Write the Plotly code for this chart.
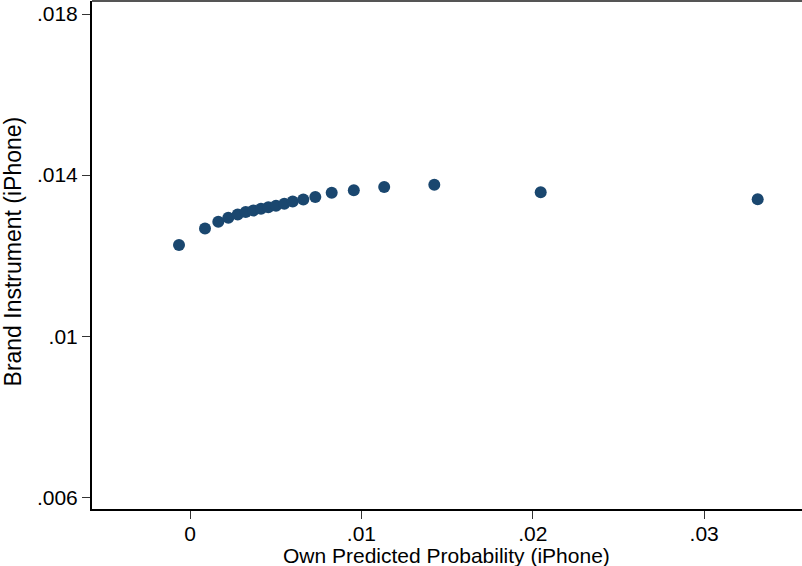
import plotly.graph_objects as go

x_vals = [-0.000642, 0.000875, 0.00165, 0.002235, 0.002783, 0.00325, 0.003693,
          0.004142, 0.004568, 0.005018, 0.005502, 0.005992, 0.00661, 0.00731,
          0.008267, 0.009557, 0.01133, 0.014253, 0.020461, 0.033121]
y_vals = [0.012264, 0.012674, 0.01284, 0.01294, 0.013022, 0.013086, 0.013121,
          0.013163, 0.013203, 0.013238, 0.013287, 0.013342, 0.013394, 0.013456,
          0.013563, 0.013623, 0.013705, 0.013762, 0.013573, 0.013399]

x_ticks = [0, 0.01, 0.02, 0.03]
x_tick_text = ["0", ".01", ".02", ".03"]
y_ticks = [0.006, 0.01, 0.014, 0.018]
y_tick_text = [".006", ".01", ".014", ".018"]

x_title = "Own Predicted Probability (iPhone)"
y_title = "Brand Instrument (iPhone)"

FONT = "Liberation Sans, Arial, sans-serif"
FS = 21

fig = go.Figure()
fig.add_trace(go.Scatter(
    x=x_vals, y=y_vals, mode="markers",
    marker=dict(size=12, color="#1a476f", line=dict(width=0)),
    showlegend=False, cliponaxis=False,
))

fig.update_layout(
    width=802, height=566,
    margin=dict(l=92, r=0, t=1, b=57, pad=0),
    paper_bgcolor="white", plot_bgcolor="white",
    font=dict(family=FONT, size=FS, color="black"),
    xaxis=dict(
        range=[-0.005718, 0.035706],
        tickmode="array", tickvals=x_ticks, ticktext=x_tick_text,
        tickfont=dict(family=FONT, size=FS, color="black"),
        ticks="outside", ticklen=8, tickwidth=1.3, tickcolor="#333",
        ticklabelstandoff=-3,
        showline=True, linecolor="black", linewidth=2,
        showgrid=False, zeroline=False,
    ),
    yaxis=dict(
        range=[0.005709, 0.018323],
        tickmode="array", tickvals=y_ticks, ticktext=y_tick_text,
        tickfont=dict(family=FONT, size=FS, color="black"),
        ticks="outside", ticklen=8, tickwidth=1.3, tickcolor="#333",
        showline=True, linecolor="black", linewidth=2,
        showgrid=False, zeroline=False,
    ),
    shapes=[dict(type="line", xref="paper", yref="paper", x0=0, x1=1, y0=1, y1=1,
                 line=dict(color="#555", width=2))],
    annotations=[
        dict(text=x_title, xref="paper", yref="paper", x=0.4986, y=-0.0906,
             xanchor="center", yanchor="middle", showarrow=False,
             font=dict(family=FONT, size=FS, color="black")),
        dict(text=y_title, xref="paper", yref="paper", x=-0.1099, y=0.5069,
             xanchor="center", yanchor="middle", textangle=-90, showarrow=False,
             font=dict(family=FONT, size=23, color="black")),
    ],
)

fig.write_html("out.html")
